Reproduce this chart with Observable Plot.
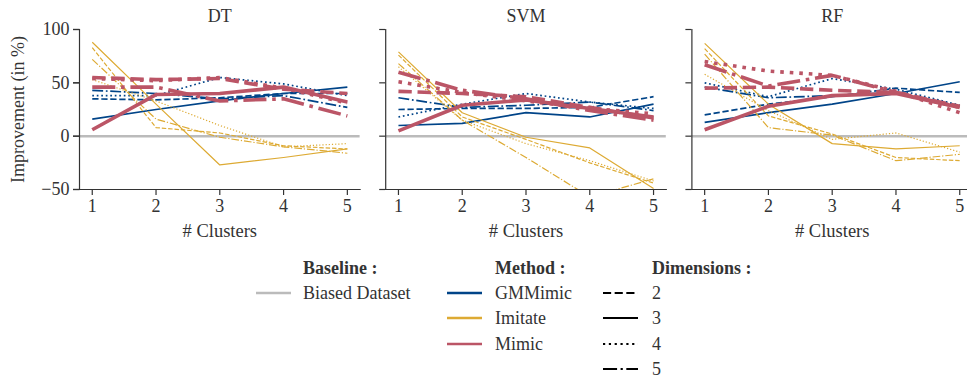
<!DOCTYPE html>
<html>
<head>
<meta charset="utf-8">
<script src="https://cdn.jsdelivr.net/npm/d3@7"></script>
<script src="https://cdn.jsdelivr.net/npm/@observablehq/plot@0.6"></script>
<style>
  html, body { margin: 0; padding: 0; background: #fff; }
  #wrap { position: relative; width: 967px; height: 381px; overflow: hidden; font-family: "Liberation Serif", serif; color: #333; }
  .lg { position: absolute; font-size: 18px; line-height: 18px; white-space: nowrap; transform: translateY(-50%); }
  .hd { font-weight: bold; }
  .sw { position: absolute; }
</style>
</head>
<body>
<div id="wrap"></div>
<script>
// ---- data ----
const clusters = [1, 2, 3, 4, 5];
const classifiers = ["DT", "SVM", "RF"];
const methods = ["GMMimic", "Imitate", "Mimic"];
const dims = [2, 3, 4, 5];
const yTicks = [-50, 0, 50, 100];
const baseline = [0];
const xLabel = "# Clusters";
const yLabel = "Improvement (in %)";

// rows: dims 2, 3, 4, 5 ; columns: clusters 1..5
const DT_GMMimic = [[35, 34, 36, 40, 40], [16, 25, 33, 40, 46], [38, 38, 55, 49, 38], [43, 40, 35, 38, 27]];
const DT_Imitate = [[83, 8, 3, -9, -12], [88, 30, -27, -20, -12], [53, 33, 10, -10, -7], [72, 16, -1, -10, -16]];
const DT_Mimic = [[55, 53, 54, 44, 40], [6, 39, 40, 46, 32], [54, 52, 55, 45, 31], [46, 46, 33, 35, 19]];

const SVM_GMMimic = [[25, 26, 26, 27, 37], [10, 12, 22, 18, 30], [18, 30, 40, 32, 26], [36, 27, 29, 32, 24]];
const SVM_Imitate = [[76, 18, -3, -25, -44], [79, 22, -1, -11, -49], [65, 15, -7, -23, -42], [68, 15, -20, -57, -40]];
const SVM_Mimic = [[42, 40, 37, 27, 17], [5, 29, 34, 26, 18], [51, 41, 33, 26, 21], [60, 43, 35, 24, 15]];

const RF_GMMimic = [[20, 30, 37, 45, 41], [13, 22, 30, 40, 51], [50, 37, 54, 44, 29], [46, 36, 38, 41, 28]];
const RF_Imitate = [[82, 19, 2, -20, -23], [87, 30, -7, -12, -9], [58, 24, -3, 3, -15], [77, 8, 1, -23, -17]];
const RF_Mimic = [[45, 46, 43, 41, 28], [6, 28, 38, 40, 27], [70, 61, 57, 42, 22], [67, 47, 57, 41, 27]];

const series = {
  DT: {GMMimic: DT_GMMimic, Imitate: DT_Imitate, Mimic: DT_Mimic},
  SVM: {GMMimic: SVM_GMMimic, Imitate: SVM_Imitate, Mimic: SVM_Mimic},
  RF: {GMMimic: RF_GMMimic, Imitate: RF_Imitate, Mimic: RF_Mimic}
};

// ---- styles ----
const colors = {GMMimic: "#004488", Imitate: "#DDAA33", Mimic: "#BB5566"};
const widths = {GMMimic: 1.7, Imitate: 1.2, Mimic: 3.6};
const dashUnits = {2: [3.7, 1.6], 3: null, 4: [1, 1.65], 5: [6.4, 1.6, 1, 1.6]};
function dashFor(dim, w) {
  const u = dashUnits[dim];
  return u ? u.map(d => (d * w).toFixed(2)).join(",") : null;
}

const rows = [];
for (const c of classifiers)
  for (const m of methods)
    dims.forEach((d, j) => clusters.forEach((k, i) => rows.push({clf: c, method: m, dim: d, clusters: k, value: series[c][m][j][i]})));

const lineMarks = [];
for (const m of methods)
  for (const d of dims)
    lineMarks.push(Plot.line(rows.filter(r => r.method === m && r.dim === d), {
      x: "clusters", y: "value", fx: "clf", z: "clf",
      stroke: colors[m], strokeWidth: widths[m],
      strokeDasharray: dashFor(d, widths[m]), strokeLinecap: "butt", strokeLinejoin: "round",
      clip: true
    }));

const ink = "#333";
const fmtY = d => d < 0 ? "\u2212" + Math.abs(d) : String(d);
const chart = Plot.plot({
  width: 967, height: 245,
  marginLeft: 79, marginRight: -5, marginTop: 29, marginBottom: 56,
  style: {fontFamily: "Liberation Serif, serif", fontSize: "18px", color: ink, background: "white", overflow: "hidden"},
  x: {domain: [0.8, 5.2]},
  y: {domain: [-50, 100]},
  fx: {domain: classifiers, paddingInner: 0.0836, paddingOuter: 0, round: false},
  marks: [
    Plot.ruleY(baseline, {y: d => d, stroke: "#BBBBBB", strokeWidth: 2.5}),
    ...lineMarks,
    Plot.frame({anchor: "left", stroke: ink, strokeWidth: 1.2}),
    Plot.frame({anchor: "bottom", stroke: ink, strokeWidth: 1.2}),
    Plot.axisFx({anchor: "top", tickSize: 0, tickPadding: 8, label: null, fontSize: 18}),
    Plot.axisY({ticks: yTicks, tickSize: 6, tickPadding: 4, tickFormat: () => "", label: null, facetAnchor: null, stroke: ink, strokeWidth: 1.2}),
    Plot.axisY({ticks: yTicks, tickSize: 6, tickPadding: 4, tickFormat: fmtY, label: yLabel, labelAnchor: "center", labelArrow: "none", labelOffset: 68, stroke: ink, strokeWidth: 1.2}),
    Plot.axisX({ticks: clusters, tickSize: 6, tickPadding: 4, tickFormat: d => String(d), label: null, facetAnchor: null, stroke: ink, strokeWidth: 1.2}),
    Plot.text(classifiers, {fx: d => d, frameAnchor: "bottom", dy: 47, text: () => xLabel, fontSize: 18.5, fill: ink})
  ]
});
const wrap = document.getElementById("wrap");
chart.style.position = "absolute";
chart.style.left = "0px";
chart.style.top = "0px";
wrap.appendChild(chart);

// ---- legend ----
function text(str, x, y, bold) {
  const el = document.createElement("div");
  el.className = "lg" + (bold ? " hd" : "");
  el.textContent = str;
  el.style.left = x + "px";
  el.style.top = y + "px";
  wrap.appendChild(el);
}
function swatch(x, y, color, w, dash) {
  const ns = "http://www.w3.org/2000/svg";
  const svg = document.createElementNS(ns, "svg");
  svg.setAttribute("class", "sw");
  svg.setAttribute("width", 36);
  svg.setAttribute("height", 8);
  svg.style.left = x + "px";
  svg.style.top = (y - 4) + "px";
  const ln = document.createElementNS(ns, "line");
  ln.setAttribute("x1", 0); ln.setAttribute("x2", 35);
  ln.setAttribute("y1", 4); ln.setAttribute("y2", 4);
  ln.setAttribute("stroke", color);
  ln.setAttribute("stroke-width", w);
  if (dash) ln.setAttribute("stroke-dasharray", dash);
  svg.appendChild(ln);
  wrap.appendChild(svg);
}
const rowY = [293, 318, 344, 369];
text("Baseline :", 303, 268, true);
swatch(256, rowY[0], "#BBBBBB", 2.5, null);
text("Biased Dataset", 303, rowY[0]);

text("Method :", 495, 268, true);
methods.forEach((m, i) => { swatch(447, rowY[i], colors[m], 2.5, null); text(m, 495, rowY[i]); });

text("Dimensions :", 652, 268, true);
dims.forEach((d, i) => { swatch(603, rowY[i], "#000", 2.2, dashFor(d, 2.2)); text(String(d), 652, rowY[i]); });
</script>
</body>
</html>
